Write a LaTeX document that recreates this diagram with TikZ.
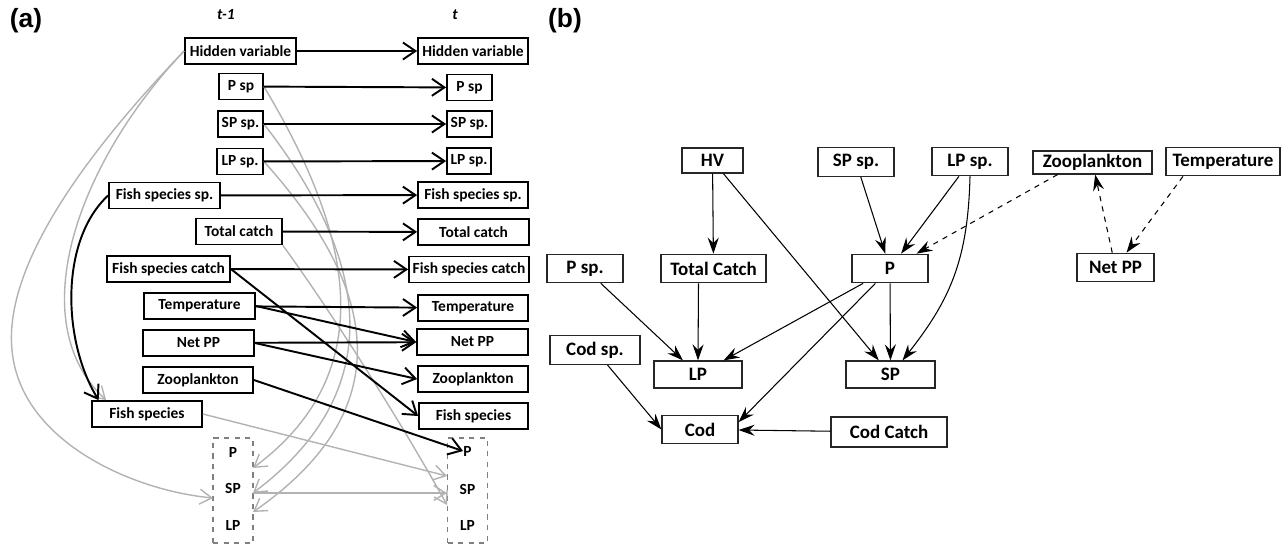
\documentclass[tikz,border=0pt]{standalone}
\usepackage{fontspec}
\setmainfont{Carlito}
\newfontfamily\panelfont{Liberation Sans}
\usepackage{tikz}
\usetikzlibrary{arrows.meta,positioning}
\definecolor{linegray}{gray}{0.70}
\definecolor{boxgray}{gray}{0.50}
\tikzset{
    %Define standard arrow tip
    >={Straight Barb[length=2.5mm,width=3.4mm]},
    %Define style for boxes of the two time slices
    timeN/.style={
           rectangle,
           draw=black, line width=1pt,
           minimum width=#1,
           minimum height=0.52cm,
           inner sep=1pt,
           font=\fontsize{8.8}{10}\selectfont\bfseries,
           text centered},
    % Define style for the dashed group box
    groupN/.style={rectangle,draw=boxgray,dashed,line width=0.9pt,minimum width=0.8cm,minimum height=2.1cm},
    % Define style for loose text
    labelN/.style={inner sep=0pt,font=\fontsize{8.8}{10}\selectfont\bfseries},
    panelN/.style={inner sep=0pt,font=\panelfont\fontsize{15}{17}\selectfont\bfseries},
    % Define style for boxes of the network
    netN/.style={rectangle,draw=black!85,line width=0.7pt,minimum width=#1,minimum height=0.57cm,inner sep=1pt,
           font=\fontsize{10.8}{12}\selectfont\bfseries},
    % Define arrow styles
    pil/.style={->,line width=1.1pt},
    greypil/.style={->,>={Straight Barb[length=2.4mm,width=3mm]},draw=linegray,line width=0.8pt},
    netpil/.style={->,>={Stealth[length=3.2mm,width=2.2mm,inset=1.1mm]},line width=0.6pt},
    dashpil/.style={netpil,dashed}
}

\begin{document}
\begin{tikzpicture}[x=0.02cm,y=-0.02cm]
  \useasboundingbox (0,0) rectangle (1285,545);
  % panel (a)
  \node[panelN] (pa) at (26,21) {(a)};
  \node[labelN] (tm1) at (226,15) {\itshape t-1};
  \node[labelN] (tt) at (455,15) {\itshape t};

  \node[timeN=2.22cm] (hv1) at (240.5,51) {Hidden variable};
  \node[timeN=0.88cm] (psp1) at (241,86.5) {P sp};
  \node[timeN=0.90cm] (spsp1) at (240.5,124) {SP sp.};
  \node[timeN=0.92cm] (lpsp1) at (240,161.5) {LP sp.};
  \node[timeN=2.22cm] (fss1) at (164.5,195.5) {Fish species sp.};
  \node[timeN=1.72cm] (tc1) at (239,231.5) {Total catch};
  \node[timeN=2.46cm] (fsc1) at (168.5,269) {Fish species catch};
  \node[timeN=2.22cm] (temp1) at (199.5,306) {Temperature};
  \node[timeN=2.22cm] (netpp1) at (198.5,343) {Net PP};
  \node[timeN=2.2cm] (zoo1) at (198,380) {Zooplankton};
  \node[timeN=2.2cm] (fs1) at (147,414) {Fish species};
  \node[groupN] (lbox) at (233,490.5) {};
  \node[labelN] (lP) at (233,452) {P};
  \node[labelN] (lSP) at (233,488) {SP};
  \node[labelN] (lLP) at (233,525) {LP};

  \node[timeN=2.2cm] (hv2) at (473,51) {Hidden variable};
  \node[timeN=0.90cm] (psp2) at (469.5,87.5) {P sp};
  \node[timeN=0.90cm] (spsp2) at (469.5,124) {SP sp.};
  \node[timeN=0.88cm] (lpsp2) at (469,161) {LP sp.};
  \node[timeN=2.2cm] (fss2) at (473,195) {Fish species sp.};
  \node[timeN=2.22cm] (tc2) at (473.5,232) {Total catch};
  \node[timeN=2.4cm] (fsc2) at (469,269.5) {Fish species catch};
  \node[timeN=2.2cm] (temp2) at (473,308) {Temperature};
  \node[timeN=2.22cm] (netpp2) at (472.5,342) {Net PP};
  \node[timeN=2.2cm] (zoo2) at (473,379) {Zooplankton};
  \node[timeN=2.18cm] (fs2) at (473.5,416) {Fish species};
  \node[groupN] (rbox) at (467.5,490.5) {};
  \node[labelN] (rP) at (467.5,451) {P};
  \node[labelN] (rSP) at (467.5,489) {SP};
  \node[labelN] (rLP) at (467.5,525) {LP};

  \coordinate (lin1) at (253,468);
  \coordinate (lin2) at (253,493);
  \coordinate (lin3) at (253,512);
  \coordinate (lin4) at (213,498);
  \coordinate (rin1) at (447,476);
  \coordinate (rin2) at (447,493);
  \coordinate (rin3) at (447,505);

  % grey links
  \draw[greypil] (hv1.west) .. controls (80,160) and (20,320) .. ([xshift=0.3cm]fs1.north west);
  \draw[greypil] (hv1.west) .. controls (60,180) and (5,280) .. (12,350) .. controls (20,440) and (130,490) .. (lin4);
  \draw[greypil] (psp1.east) .. controls (350,230) and (385,370) .. (lin1);
  \draw[greypil] (spsp1.east) .. controls (370,260) and (390,390) .. (lin2);
  \draw[greypil] (lpsp1.east) .. controls (380,290) and (400,410) .. (lin3);
  \draw[greypil] (tc1.south east) .. controls (330,310) and (400,420) .. (rin3);
  \draw[greypil] (fs1.east) -- (rin1);
  \draw[greypil] (lin2) -- (rin2);

  % black links
  \path[pil]
    (hv1) edge (hv2)
    (psp1) edge (psp2)
    (spsp1) edge (spsp2)
    (lpsp1) edge (lpsp2)
    (fss1) edge (fss2)
    (tc1) edge (tc2)
    (fsc1) edge (fsc2)
    (fsc1.east) edge (fs2.west)
    (temp1) edge (temp2)
    (temp1.east) edge (netpp2.west)
    (netpp1) edge (netpp2)
    (netpp1.east) edge (zoo2.west)
    (zoo1.east) edge (rP.west);
  \draw[pil] (fss1.west) .. controls (60,240) and (62,340) .. ([xshift=0.15cm]fs1.north west);

  % panel (b)
  \node[panelN] (pb) at (565,21) {(b)};
  \node[netN=1.22cm,minimum height=0.5cm] (hv) at (712.5,160.5) {HV};
  \node[netN=1.52cm] (spsp) at (856,162) {SP sp.};
  \node[netN=1.52cm] (lpsp) at (970,161.5) {LP sp.};
  \node[netN=2.38cm,minimum height=0.46cm] (zoo) at (1092.5,162.5) {Zooplankton};
  \node[netN=2.28cm] (temp) at (1223,161.5) {Temperature};
  \node[netN=1.52cm] (psp) at (585,268.5) {P sp.};
  \node[netN=2.1cm] (tcatch) at (713.5,268.5) {Total Catch};
  \node[netN=1.52cm] (p) at (890,268.5) {P};
  \node[netN=1.54cm] (netpp) at (1115.5,267.5) {Net PP};
  \node[netN=1.8cm] (codsp) at (595,350) {Cod sp.};
  \node[netN=1.76cm,minimum height=0.54cm] (lp) at (698,374.5) {LP};
  \node[netN=1.78cm,minimum height=0.54cm] (sp) at (890.5,374.5) {SP};
  \node[netN=1.52cm] (cod) at (700,429.5) {Cod};
  \node[netN=2.32cm,minimum height=0.6cm] (codc) at (889,432) {Cod Catch};

  \path[netpil]
    (hv) edge (tcatch)
    (hv) edge (sp)
    (spsp) edge (p)
    (lpsp) edge (p)
    (psp) edge (lp)
    ([xshift=-0.3cm]tcatch.south) edge (lp.north)
    (p) edge (lp)
    (p) edge (sp)
    (p) edge ([yshift=-0.15cm]cod.north east)
    (codsp) edge (cod.west)
    (codc) edge (cod);
  \draw[netpil] (lpsp.south) .. controls (968,260) and (950,300) .. ([xshift=0.24cm]sp.north);
  \path[dashpil]
    ([xshift=-0.7cm]zoo.south) edge (p)
    (netpp) edge (zoo)
    ([xshift=-0.8cm]temp.south) edge (netpp);
\end{tikzpicture}
\end{document}
